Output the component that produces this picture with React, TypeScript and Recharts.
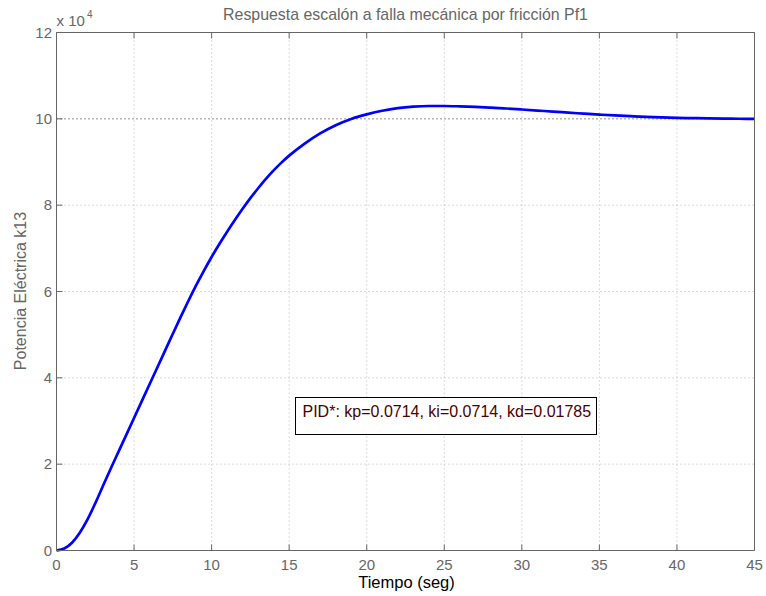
import React from 'react';
import { LineChart, Line, XAxis, YAxis, CartesianGrid, ReferenceLine } from 'recharts';

const times = [0, 0.5, 1, 1.5, 2, 2.5, 3, 3.5, 4, 4.5, 5, 5.5, 6, 6.5, 7, 7.5, 8, 8.5, 9, 9.5, 10, 10.5, 11, 11.5, 12, 12.5, 13, 13.5, 14, 14.5, 15, 16, 17, 18, 19, 20, 21, 22, 23, 24, 25, 26, 27, 28, 29, 30, 31, 32, 33, 34, 35, 36, 37, 38, 39, 40, 41, 42, 43, 44, 45];
const potencia = [0, 450, 1800, 4100, 7200, 10950, 15000, 19000, 22900, 26800, 30700, 34600, 38500, 42400, 46300, 50200, 54050, 57800, 61400, 64800, 68000, 71000, 73850, 76575, 79175, 81625, 83925, 86075, 88050, 89850, 91475, 94275, 96625, 98525, 99975, 101025, 101875, 102475, 102825, 102975, 102975, 102900, 102775, 102600, 102390, 102160, 101920, 101680, 101430, 101200, 100980, 100780, 100610, 100460, 100340, 100240, 100160, 100100, 100050, 100020, 100000];
const xTicks = [0, 5, 10, 15, 20, 25, 30, 35, 40, 45];
const yTicks = [0, 20000, 40000, 60000, 80000, 100000, 120000];
const yTickLabels = ['0', '2', '4', '6', '8', '10', '12'];
const steadyState = 100000;

const title = 'Respuesta escalón a falla mecánica por fricción Pf1';
const xLabel = 'Tiempo (seg)';
const yLabel = 'Potencia Eléctrica k13';
const annotation = 'PID*: kp=0.0714, ki=0.0714, kd=0.01785';

const data = times.map((t, i) => ({ t, p: potencia[i] }));

const FONT = '"Liberation Sans", Arial, Helvetica, sans-serif';
const AXIS = '#666666';
const TEXT = '#666666';
const TICK_LEN = 6;

const BottomTick = (props: any) => {
  const { x, y, payload } = props;
  return (
    <g>
      <line x1={x} y1={y} x2={x} y2={y - TICK_LEN} stroke={AXIS} strokeWidth={1} />
      <text x={x} y={y + 19.5} textAnchor="middle" fontSize={15} fontFamily={FONT} fill={TEXT}>
        {payload.value}
      </text>
    </g>
  );
};

const TopTick = (props: any) => {
  const { x, y } = props;
  return <line x1={x} y1={y} x2={x} y2={y + TICK_LEN} stroke={AXIS} strokeWidth={1} />;
};

const LeftTick = (props: any) => {
  const { x, y, payload } = props;
  const idx = yTicks.indexOf(payload.value);
  return (
    <g>
      <line x1={x} y1={y} x2={x + TICK_LEN} y2={y} stroke={AXIS} strokeWidth={1} />
      <text x={x - 4.5} y={y + 5.3} textAnchor="end" fontSize={15} fontFamily={FONT} fill={TEXT}>
        {idx >= 0 ? yTickLabels[idx] : ''}
      </text>
    </g>
  );
};

const RightTick = (props: any) => {
  const { x, y } = props;
  return <line x1={x} y1={y} x2={x - TICK_LEN} y2={y} stroke={AXIS} strokeWidth={1} />;
};

export default function App() {
  return (
    <div style={{ position: 'absolute', left: 0, top: 0, width: 766, height: 596, background: '#ffffff' }}>
      <LineChart
        width={766}
        height={596}
        data={data}
        margin={{ top: 31.5, right: 10.5, bottom: 44.5, left: 55.5 }}
      >
        <CartesianGrid stroke="#b8b8b8" strokeDasharray="1 3" />
        <XAxis
          dataKey="t"
          type="number"
          domain={[0, 45]}
          ticks={xTicks}
          interval={0}
          height={1}
          tickSize={0}
          tickMargin={0}
          tickLine={false}
          axisLine={{ stroke: AXIS }}
          tick={BottomTick}
        />
        <XAxis
          xAxisId="top"
          orientation="top"
          dataKey="t"
          type="number"
          domain={[0, 45]}
          ticks={xTicks}
          interval={0}
          height={1}
          tickSize={0}
          tickMargin={0}
          tickLine={false}
          axisLine={{ stroke: AXIS }}
          tick={TopTick}
        />
        <YAxis
          type="number"
          domain={[0, 120000]}
          ticks={yTicks}
          interval={0}
          width={1}
          tickSize={0}
          tickMargin={0}
          tickLine={false}
          axisLine={{ stroke: AXIS }}
          tick={LeftTick}
        />
        <YAxis
          yAxisId="right"
          orientation="right"
          type="number"
          domain={[0, 120000]}
          ticks={yTicks}
          interval={0}
          width={1}
          tickSize={0}
          tickMargin={0}
          tickLine={false}
          axisLine={{ stroke: AXIS }}
          tick={RightTick}
        />
        <ReferenceLine y={steadyState} stroke="#555555" strokeDasharray="1 3" />
        <Line
          dataKey="p"
          type="monotone"
          stroke="#0000ff"
          strokeWidth={2.7}
          dot={false}
          isAnimationActive={false}
        />
      </LineChart>
      <svg
        width={766}
        height={596}
        style={{ position: 'absolute', left: 0, top: 0, pointerEvents: 'none' }}
      >
        <text x={405.5} y={19.5} textAnchor="middle" fontSize={15.9} fontFamily={FONT} fill={TEXT}>
          {title}
        </text>
        <text x={56.5} y={25.5} fontSize={15} fontFamily={FONT} fill={TEXT}>
          x 10
        </text>
        <text x={87} y={18.3} fontSize={10} fontFamily={FONT} fill={TEXT}>
          4
        </text>
        <text x={406.5} y={587.5} textAnchor="middle" fontSize={16.5} fontFamily={FONT} fill="#000000">
          {xLabel}
        </text>
        <text
          x={26}
          y={291}
          textAnchor="middle"
          fontSize={16}
          fontFamily={FONT}
          fill={TEXT}
          transform="rotate(-90 26 291)"
        >
          {yLabel}
        </text>
        <rect x={295.5} y={397.5} width={301} height={37} fill="#ffffff" stroke="#000000" strokeWidth={1} />
        <text x={302.5} y={416.7} fontSize={16} fontFamily={FONT} fill="#4a0000">
          {annotation}
        </text>
      </svg>
    </div>
  );
}
